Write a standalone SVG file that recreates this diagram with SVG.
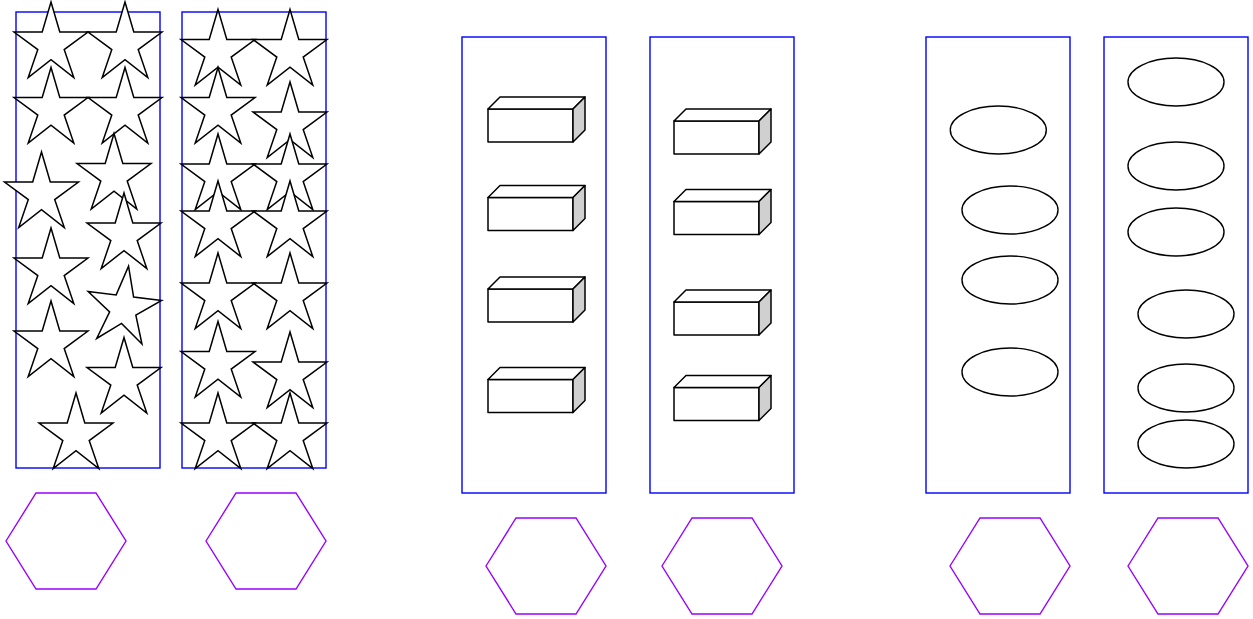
<svg xmlns="http://www.w3.org/2000/svg" xmlns:xlink="http://www.w3.org/1999/xlink" width="1253" height="619" viewBox="0 0 1253 619">
<style>
.panel{fill:#ffffff;stroke:#0000ff;stroke-width:1.4}
.hex{fill:#ffffff;stroke:#9900ff;stroke-width:1.4}
.star{fill:#ffffff;stroke:#000000;stroke-width:1.5;stroke-linejoin:miter}
.ell{fill:#ffffff;stroke:#000000;stroke-width:1.4}
.cf{fill:#ffffff;stroke:#000000;stroke-width:1.5;stroke-linejoin:round}
.cs{fill:#d0d0d0;stroke:#000000;stroke-width:1.5;stroke-linejoin:round}
</style>
<defs>
<path id="star" class="star" d="M0,30 L28.2,30 L37,0 L45.8,30 L74,30 L50.2,47.6 L59.8,75.6 L37,57.6 L14.2,75.6 L23.8,47.6 Z"/>
<polygon id="hexshape" class="hex" points="0,48 30,0 90,0 120,48 90,96 30,96"/>
<g id="cube">
<rect class="cf" x="0" y="12" width="85" height="33"/>
<path class="cf" d="M0,12 L12,0 L97,0 L85,12 Z"/>
<path class="cs" d="M85,12 L97,0 L97,33 L85,45 Z"/>
</g>
</defs>
<rect width="1253" height="619" fill="#ffffff"/>

<g id="panel1">
<rect class="panel" x="16" y="12" width="144" height="456"/>
<use href="#star" x="14" y="2"/>
<use href="#star" x="88" y="2"/>
<use href="#star" x="14" y="67.5"/>
<use href="#star" x="88" y="67.5"/>
<use href="#star" x="77" y="133.5"/>
<use href="#star" x="4.5" y="152"/>
<use href="#star" x="87" y="193"/>
<use href="#star" x="14" y="228"/>
<use href="#star" transform="translate(123.4,308.1) rotate(7) translate(-37,-42.2)"/>
<use href="#star" x="14" y="301"/>
<use href="#star" x="87" y="337.5"/>
<use href="#star" x="39" y="393"/>
</g>

<g id="panel2">
<rect class="panel" x="182" y="12" width="144" height="456"/>
<use href="#star" x="181" y="9.5"/>
<use href="#star" x="253" y="9.5"/>
<use href="#star" x="181" y="67.5"/>
<use href="#star" x="253" y="82"/>
<use href="#star" x="181" y="134"/>
<use href="#star" x="253" y="134"/>
<use href="#star" x="181" y="181"/>
<use href="#star" x="253" y="181"/>
<use href="#star" x="181" y="253"/>
<use href="#star" x="253" y="253"/>
<use href="#star" x="181" y="321.5"/>
<use href="#star" x="253" y="332"/>
<use href="#star" x="181" y="393"/>
<use href="#star" x="253" y="393"/>
</g>

<g id="panel3">
<rect class="panel" x="462" y="37" width="144" height="456"/>
<use href="#cube" x="488" y="97"/>
<use href="#cube" x="488" y="185.5"/>
<use href="#cube" x="488" y="277"/>
<use href="#cube" x="488" y="367.5"/>
</g>

<g id="panel4">
<rect class="panel" x="650" y="37" width="144" height="456"/>
<use href="#cube" x="674" y="109"/>
<use href="#cube" x="674" y="189.5"/>
<use href="#cube" x="674" y="290"/>
<use href="#cube" x="674" y="375.5"/>
</g>

<g id="panel5">
<rect class="panel" x="926" y="37" width="144" height="456"/>
<ellipse class="ell" cx="998.3" cy="130" rx="48" ry="24"/>
<ellipse class="ell" cx="1010" cy="210" rx="48" ry="24"/>
<ellipse class="ell" cx="1010" cy="280" rx="48" ry="24"/>
<ellipse class="ell" cx="1010" cy="372" rx="48" ry="24"/>
</g>

<g id="panel6">
<rect class="panel" x="1104" y="37" width="144" height="456"/>
<ellipse class="ell" cx="1176" cy="82" rx="48" ry="24"/>
<ellipse class="ell" cx="1176" cy="166" rx="48" ry="24"/>
<ellipse class="ell" cx="1176" cy="232" rx="48" ry="24"/>
<ellipse class="ell" cx="1186" cy="314" rx="48" ry="24"/>
<ellipse class="ell" cx="1186" cy="388" rx="48" ry="24"/>
<ellipse class="ell" cx="1186" cy="444" rx="48" ry="24"/>
</g>

<g id="hex1"><use href="#hexshape" x="6" y="493"/></g>
<g id="hex2"><use href="#hexshape" x="206" y="493"/></g>
<g id="hex3"><use href="#hexshape" x="486" y="518"/></g>
<g id="hex4"><use href="#hexshape" x="662" y="518"/></g>
<g id="hex5"><use href="#hexshape" x="950" y="518"/></g>
<g id="hex6"><use href="#hexshape" x="1128" y="518"/></g>

<g id="connectors"></g>
</svg>
